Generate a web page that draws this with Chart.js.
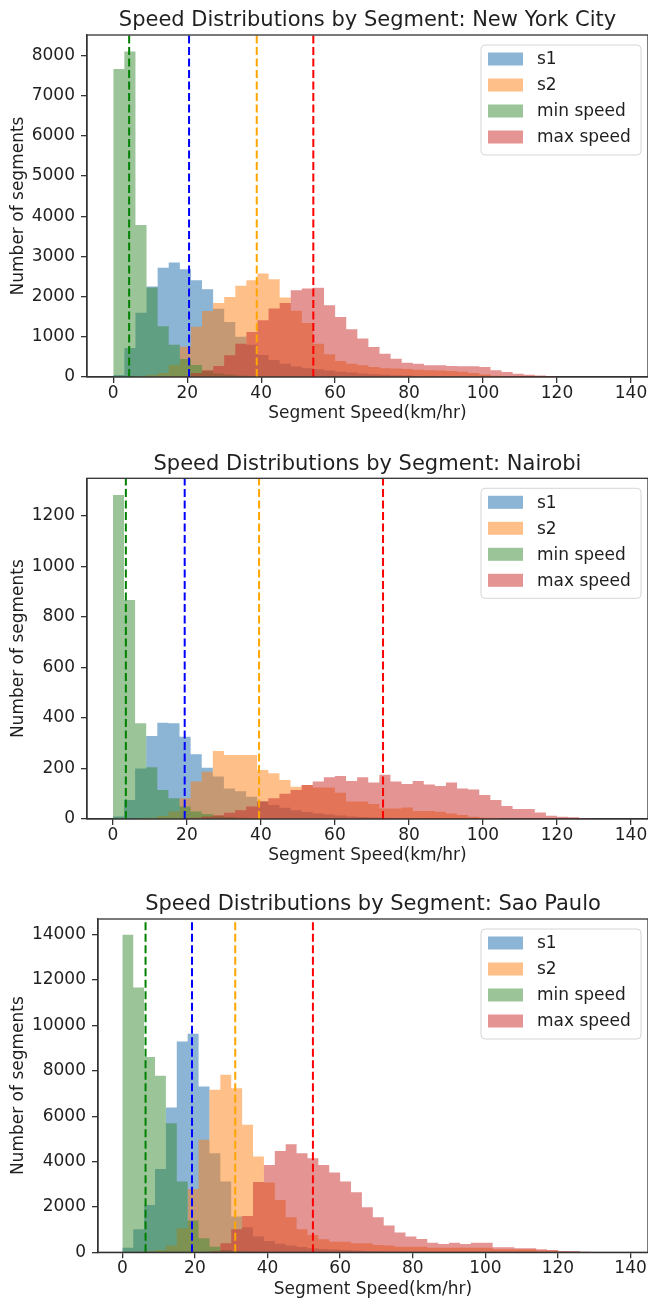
<!DOCTYPE html>
<html lang="en">
<head>
<meta charset="utf-8">
<title>Speed Distributions by Segment</title>
<script src="https://cdn.jsdelivr.net/npm/chart.js@4.4.0/dist/chart.umd.min.js"></script>
<style>
  html, body { margin: 0; padding: 0; background: #fff; overflow: hidden; }
  #wrap { position: relative; width: 648px; height: 1303px; }
  .panel { position: absolute; left: 0; }
</style>
</head>
<body>
<div id="wrap">
  <canvas id="nyc" class="panel" width="648" height="426" style="top:0px"></canvas>
  <canvas id="nairobi" class="panel" width="648" height="425" style="top:443px"></canvas>
  <canvas id="saopaulo" class="panel" width="648" height="419" style="top:883px"></canvas>
</div>
<script>
// histogram counts, bins of 3 km/hr starting at 0
const binWidth = 3;
const seriesNames = ['s1', 's2', 'min speed', 'max speed'];
const xTicks = [0, 20, 40, 60, 80, 100, 120, 140];

// New York City
const nycS1  = [50, 720, 1600, 2250, 2716, 2849, 2683, 2409, 2184, 1700, 1370, 1000, 800, 550, 420, 330, 260, 220, 190, 160, 130, 110, 90, 70, 55, 45, 35, 25, 20, 15, 10, 8, 5, 3];
const nycS2  = [0, 5, 20, 50, 100, 300, 750, 1250, 1640, 1840, 1990, 2270, 2410, 2575, 2430, 1980, 1650, 1345, 830, 565, 400, 330, 290, 250, 220, 210, 200, 180, 170, 160, 150, 130, 100, 60, 30, 15, 5];
const nycMin = [7666, 8100, 3780, 2230, 1262, 805, 450, 300, 150, 90, 60, 40, 25, 15, 10, 5, 3];
const nycMax = [0, 0, 0, 0, 5, 10, 20, 100, 166, 274, 540, 830, 1120, 1412, 1703, 1844, 2160, 2200, 2218, 1786, 1495, 1188, 955, 748, 581, 457, 357, 332, 290, 290, 274, 266, 266, 249, 166, 125, 83, 58, 40, 17];
const nycMeans = [20.5, 38.8, 4.3, 54.1];
const nycYTicks = [0, 1000, 2000, 3000, 4000, 5000, 6000, 7000, 8000];

// Nairobi
const nbS1  = [10, 75, 200, 329, 381, 379, 326, 256, 203, 168, 121, 110, 88, 70, 55, 45, 35, 28, 22, 18, 14, 10, 8, 6, 5, 4, 3, 2, 1];
const nbS2  = [0, 0, 2, 5, 12, 30, 82, 148, 187, 269, 253, 253, 253, 194, 181, 154, 128, 135, 125, 125, 104, 69, 69, 59, 42, 42, 46, 32, 32, 29, 22, 16, 9, 5, 3];
const nbMin = [1283, 867, 379, 205, 115, 82, 49, 30, 20, 12, 8, 5, 3];
const nbMax = [0, 0, 0, 0, 0, 0, 2, 5, 10, 15, 25, 35, 49, 69, 82, 100, 115, 135, 148, 165, 170, 150, 165, 145, 175, 148, 139, 150, 137, 131, 145, 121, 117, 95, 75, 51, 40, 40, 26, 13, 9, 7, 4];
const nbMeans = [19.4, 39.5, 3.5, 73.0];
const nbYTicks = [0, 200, 400, 600, 800, 1000, 1200];

// Sao Paulo
const spS1  = [206, 1015, 2088, 3676, 6382, 9294, 9632, 7309, 4368, 3118, 1574, 1100, 700, 500, 380, 300, 230, 180, 150, 120, 100, 80, 60, 50, 40, 30, 25, 20, 15, 10, 8, 5];
const spS2  = [0, 20, 50, 100, 300, 1059, 2794, 4956, 7162, 7824, 7235, 5618, 4221, 3074, 2309, 1544, 1015, 765, 573, 470, 470, 397, 397, 323, 300, 250, 250, 250, 206, 206, 206, 206, 206, 206, 132, 132, 132, 132, 74, 74, 20];
const spMin = [14000, 11674, 8603, 7779, 5691, 3118, 1397, 618, 250, 100, 50, 25, 15, 8, 4];
const spMax = [0, 0, 0, 0, 0, 0, 5, 15, 50, 400, 1015, 1600, 3100, 3853, 4470, 4765, 4368, 4147, 3850, 3515, 3118, 2647, 1985, 1544, 1176, 868, 691, 588, 426, 368, 426, 368, 426, 426, 220, 220, 176, 176, 132, 103, 59, 59, 29];
const spMeans = [19.2, 31.1, 6.4, 52.5];
const spYTicks = [0, 2000, 4000, 6000, 8000, 10000, 12000, 14000];

const fillColors = ['rgba(25,105,170,0.5)', 'rgba(255,127,20,0.5)', 'rgba(55,140,50,0.5)', 'rgba(200,42,40,0.5)'];
const meanColors = ['blue', 'orange', 'green', 'red'];
const ink = '#1f1f1f';
const spine = '#333';

const panels = [
  { id: 'nyc', city: 'New York City', series: [nycS1, nycS2, nycMin, nycMax], means: nycMeans, yTicks: nycYTicks,
    xMin: -7.1, xMax: 144.6, yMax: 8510, axisLeft: 87, axisTop: 35, axisBottom: 377, height: 426 },
  { id: 'nairobi', city: 'Nairobi', series: [nbS1, nbS2, nbMin, nbMax], means: nbMeans, yTicks: nbYTicks,
    xMin: -7.0, xMax: 144.6, yMax: 1349, axisLeft: 87, axisTop: 35.3, axisBottom: 376, height: 425 },
  { id: 'saopaulo', city: 'Sao Paulo', series: [spS1, spS2, spMin, spMax], means: spMeans, yTicks: spYTicks,
    xMin: -6.7, xMax: 144.8, yMax: 14690, axisLeft: 98, axisTop: 36, axisBottom: 369.3, height: 419 }
];

Chart.defaults.font.family = "'DejaVu Sans', sans-serif";
Chart.defaults.color = ink;

// step outline of a histogram: each point holds its count until the next edge
function histPoints(counts) {
  const pts = counts.map((c, i) => ({ x: i * binWidth, y: c }));
  pts.push({ x: counts.length * binWidth, y: 0 });
  return pts;
}

// title centred over the axes, plus the top and right spines
const axesFrame = {
  id: 'axesFrame',
  afterDraw(chart, args, opts) {
    const { ctx, chartArea: a } = chart;
    ctx.save();
    ctx.strokeStyle = spine;
    ctx.lineWidth = 1.3;
    ctx.strokeRect(a.left, a.top, a.right - a.left, a.bottom - a.top);
    ctx.font = "21px 'DejaVu Sans'";
    ctx.fillStyle = ink;
    ctx.textAlign = 'center';
    ctx.textBaseline = 'middle';
    ctx.fillText(opts.title, (a.left + a.right) / 2, a.top - 14);
    ctx.restore();
  }
};

// legend box drawn inside the plot, upper right
const boxLegend = {
  id: 'boxLegend',
  afterDatasetsDraw(chart) {
    const { ctx, chartArea: a } = chart;
    const items = chart.data.datasets.filter(d => d.inLegend);
    const w = 160, h = 110;
    const x0 = a.right - 7 - w, y0 = a.top + 10;
    ctx.save();
    ctx.beginPath();
    ctx.roundRect(x0, y0, w, h, 4);
    ctx.fillStyle = 'rgba(255,255,255,0.8)';
    ctx.fill();
    ctx.strokeStyle = '#d6d6d6';
    ctx.lineWidth = 1;
    ctx.stroke();
    ctx.font = "17px 'DejaVu Sans'";
    ctx.textBaseline = 'middle';
    items.forEach((d, i) => {
      const cy = y0 + 14 + i * 26;
      ctx.fillStyle = d.backgroundColor;
      ctx.fillRect(x0 + 7, cy - 6.5, 35, 13);
      ctx.fillStyle = ink;
      ctx.fillText(d.label, x0 + 56, cy + 1);
    });
    ctx.restore();
  }
};

panels.forEach(p => {
  const datasets = p.series.map((counts, k) => ({
    type: 'line',
    label: seriesNames[k],
    inLegend: true,
    data: histPoints(counts),
    stepped: true,
    fill: 'origin',
    backgroundColor: fillColors[k],
    borderColor: 'rgba(0,0,0,0)',
    borderWidth: 1,
    pointRadius: 0,
    order: 4 - k
  }));
  p.means.forEach((m, k) => {
    datasets.push({
      type: 'line',
      label: seriesNames[k] + ' mean',
      data: [{ x: m, y: 0 }, { x: m, y: p.yMax }],
      borderColor: meanColors[k],
      borderWidth: 2,
      borderDash: [8, 3.5],
      pointRadius: 0,
      fill: false,
      order: 0
    });
  });

  new Chart(document.getElementById(p.id), {
    type: 'line',
    data: { datasets },
    options: {
      responsive: false,
      animation: false,
      events: [],
      layout: { padding: { top: p.axisTop, left: 0, right: 0, bottom: 0 } },
      plugins: {
        legend: { display: false },
        tooltip: { enabled: false },
        axesFrame: { title: 'Speed Distributions by Segment: ' + p.city }
      },
      scales: {
        x: {
          type: 'linear',
          min: p.xMin,
          max: p.xMax,
          afterBuildTicks: s => { s.ticks = xTicks.map(v => ({ value: v })); },
          afterFit: s => { s.height = p.height - p.axisBottom; s.paddingLeft = 0; s.paddingRight = 0; },
          ticks: { font: { size: 17 }, color: ink, padding: 0, maxRotation: 0, autoSkip: false, callback: v => String(v) },
          grid: { drawOnChartArea: false, tickLength: 6, color: spine, lineWidth: 1.3 },
          border: { color: spine, width: 1.3 },
          title: { display: true, text: 'Segment Speed(km/hr)', color: ink, font: { size: 17 }, padding: { top: 0, bottom: 2 } }
        },
        y: {
          type: 'linear',
          min: 0,
          max: p.yMax,
          afterBuildTicks: s => { s.ticks = p.yTicks.map(v => ({ value: v })); },
          afterFit: s => { s.width = p.axisLeft; s.paddingTop = 0; },
          ticks: { font: { size: 17 }, color: ink, padding: 6, autoSkip: false, callback: v => String(v) },
          grid: { drawOnChartArea: false, tickLength: 6, color: spine, lineWidth: 1.3 },
          border: { color: spine, width: 1.3 },
          title: { display: true, text: 'Number of segments', color: ink, font: { size: 17 }, padding: { top: 8, bottom: 0 } }
        }
      }
    },
    plugins: [axesFrame, boxLegend]
  });
});
</script>
</body>
</html>
